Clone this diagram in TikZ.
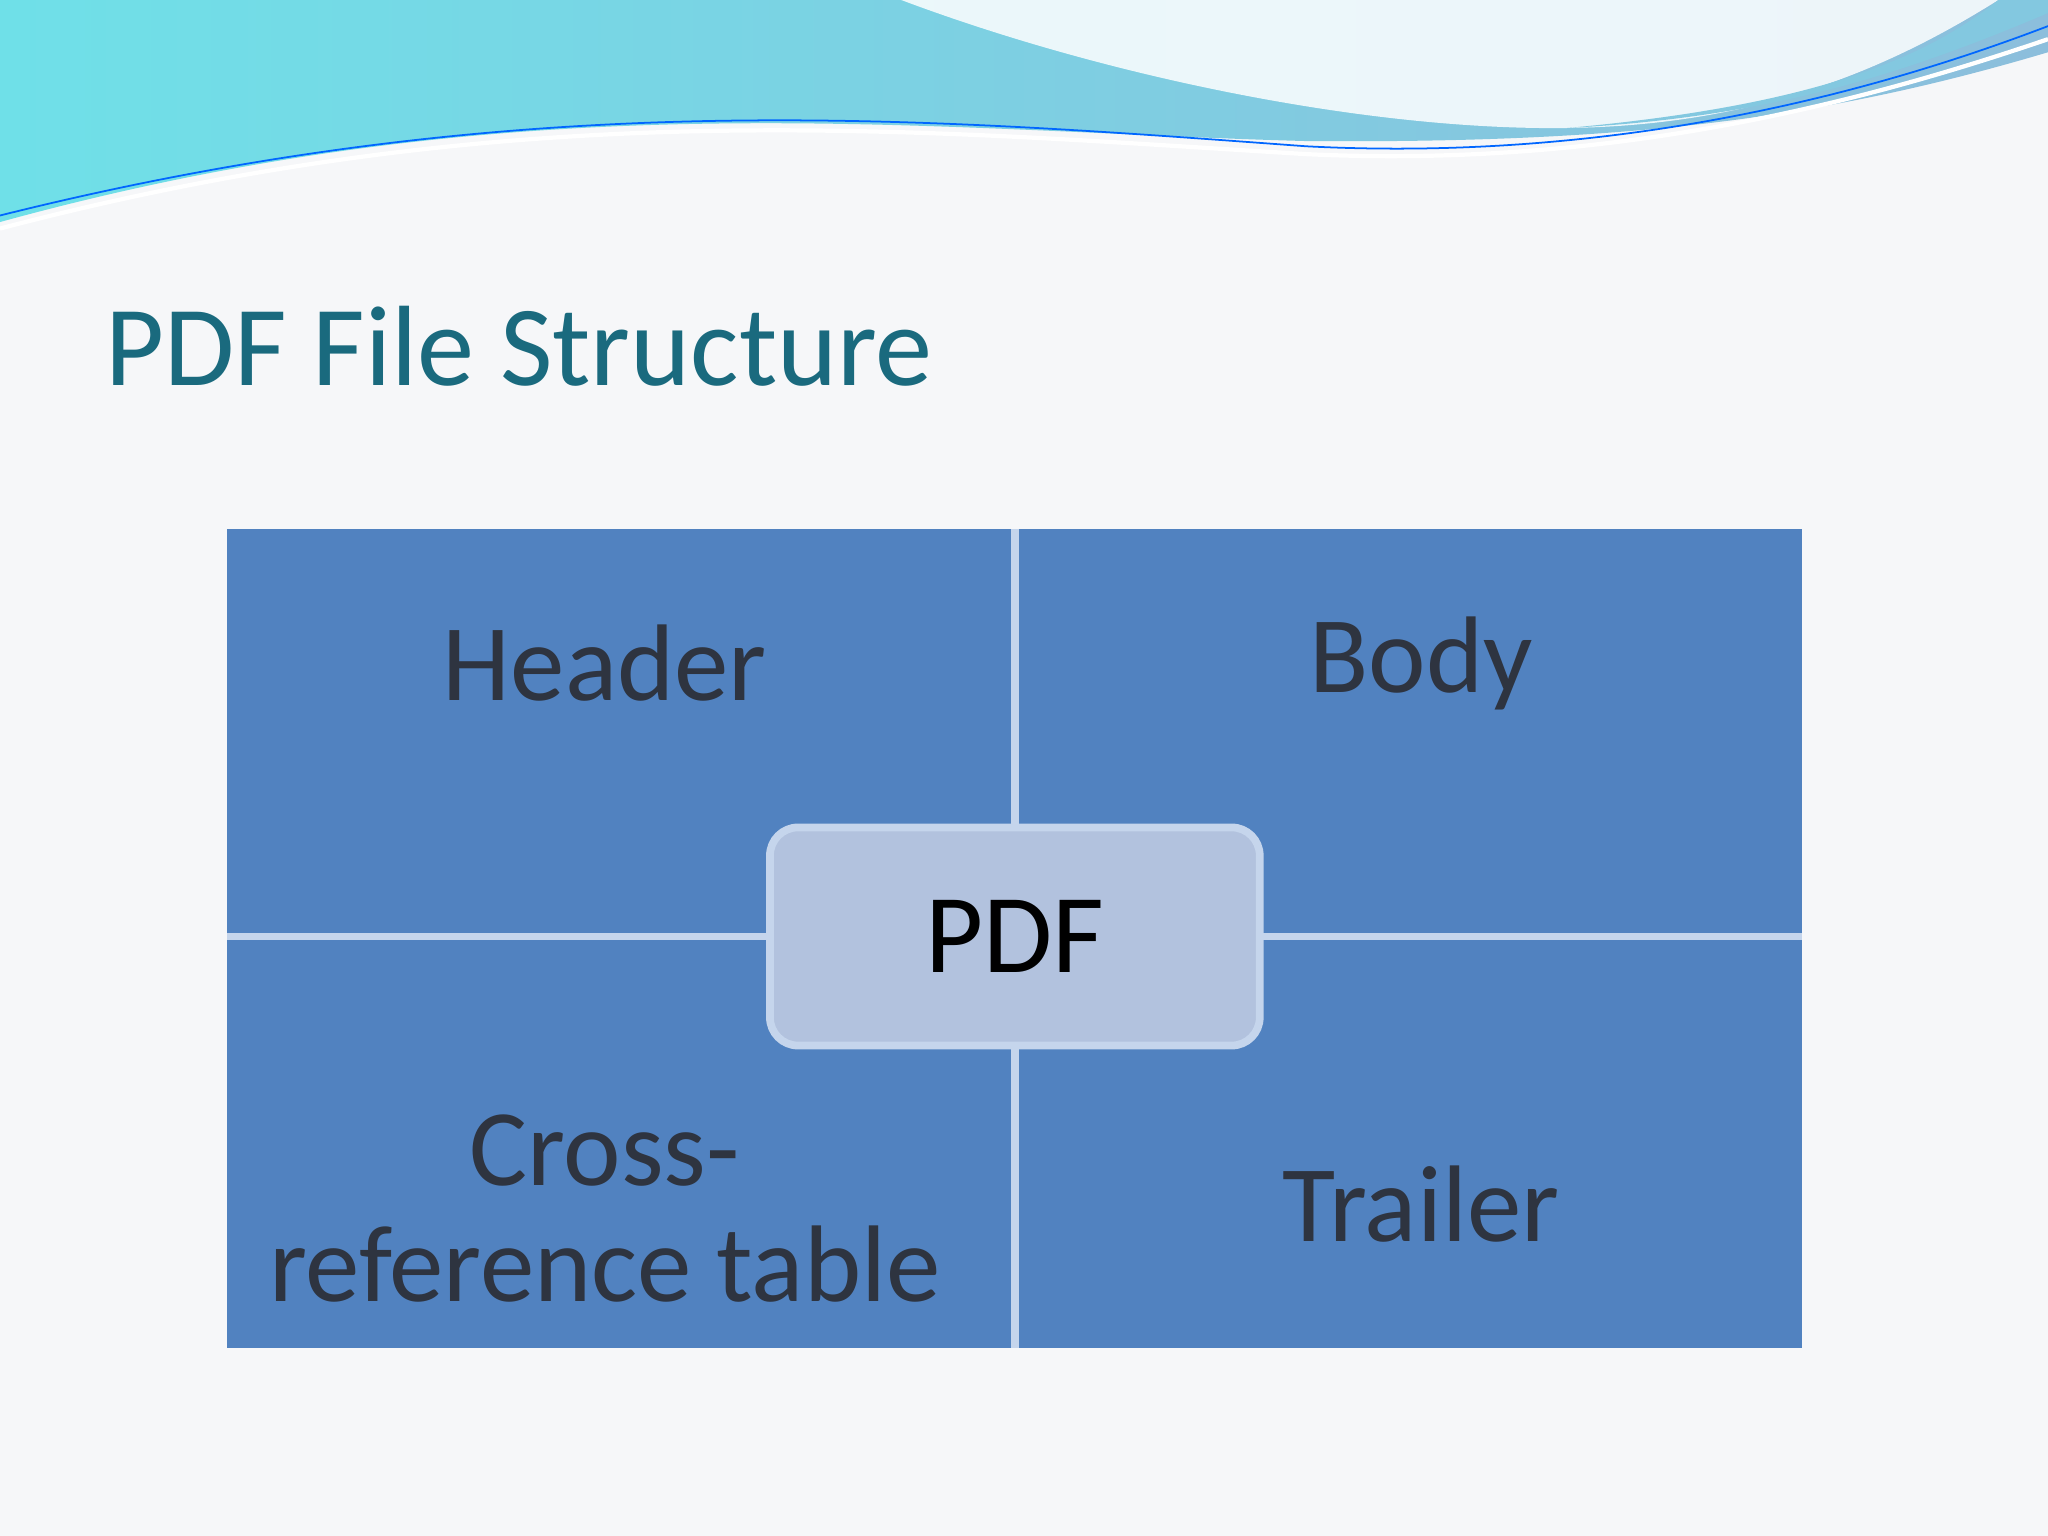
\documentclass[tikz,border=0pt]{standalone}
\usepackage{fontspec}
\setmainfont{Carlito}
\definecolor{bg}{HTML}{F6F7F9}
\definecolor{titlec}{HTML}{1A6A7E}
\definecolor{quad}{HTML}{5182C0}
\definecolor{divc}{HTML}{C5D5EC}
\definecolor{pdff}{HTML}{B2C2DE}
\definecolor{txt}{HTML}{2E3440}
\definecolor{waveA}{HTML}{6FE0E8}
\definecolor{waveB}{HTML}{8CBEDC}
\tikzset{lbl/.style={text=txt,font=\fontsize{31}{34}\selectfont,align=center}}
\begin{document}
\begin{tikzpicture}[x=0.013061cm,y=-0.013061cm]
\useasboundingbox (0,0) rectangle (1568,1176);
\fill[bg] (0,0) rectangle (1568,1176);
% top wave
\shade[left color=waveA,right color=waveB] (0,0) -- (1568,0) -- (1568,40) .. controls (1400,90) and (1250,110) .. (1000,108) .. controls (700,100) and (400,60) .. (0,170) -- cycle;
\fill[white,opacity=0.85] (690,0) .. controls (850,60) and (1050,100) .. (1200,98) .. controls (1350,96) and (1450,50) .. (1530,0) -- cycle;
\fill[waveB!70!waveA] (1530,0) -- (1568,0) -- (1568,10) .. controls (1450,60) and (1350,90) .. (1200,98) .. controls (1400,80) and (1480,40) .. (1530,0);
\draw[white,line width=1.2pt] (0,175) .. controls (400,70) and (700,100) .. (1000,118) .. controls (1250,130) and (1450,70) .. (1568,30);
\draw[blue!60!cyan,line width=0.5pt] (0,165) .. controls (400,65) and (700,90) .. (1000,112) .. controls (1250,125) and (1450,65) .. (1568,20);
% title
\node[anchor=base west,text=titlec,font=\fontsize{32.5}{36}\selectfont,inner sep=0] (title) at (80,295) {PDF File Structure};
% quadrants
\fill[quad] (174,405) rectangle (1380,1032);
\draw[divc,line width=2.2pt] (777,405) -- (777,1032);
\draw[divc,line width=2.2pt] (174,717) -- (1380,717);
\node[draw=divc,line width=2.2pt,fill=pdff,rounded corners=8pt,minimum width=375*0.013061cm,minimum height=167*0.013061cm,text=black,font=\fontsize{32}{36}\selectfont] (pdf) at (777,717) {PDF};
\node[lbl] (header) at (463,508) {Header};
\node[lbl] (body) at (1088,508) {Body};
\node[lbl,font=\fontsize{31}{33}\selectfont] (xref) at (463,925) {Cross-\\reference table};
\node[lbl] (trailer) at (1088,922) {Trailer};
\end{tikzpicture}
\end{document}
